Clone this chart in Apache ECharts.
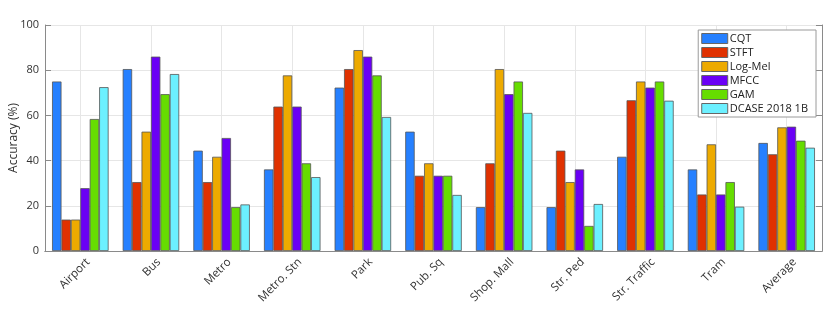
<!DOCTYPE html>
<html>
<head>
<meta charset="utf-8">
<script src="https://cdn.jsdelivr.net/npm/echarts@6/dist/echarts.min.js"></script>
<style>
  html, body { margin: 0; padding: 0; background: #fff; }
  #chart { width: 830px; height: 325px; }
</style>
</head>
<body>
<div id="chart"></div>
<script>
const categories = ["Airport", "Bus", "Metro", "Metro. Stn", "Park", "Pub. Sq", "Shop. Mall", "Str. Ped", "Str. Traffic", "Tram", "Average"];
const yTicks = [0, 20, 40, 60, 80, 100];

const cqt = [75.0, 80.5, 44.4, 36.1, 72.3, 52.8, 19.4, 19.4, 41.7, 36.1, 47.8];
const stft = [13.9, 30.5, 30.5, 63.9, 80.5, 33.3, 38.8, 44.4, 66.7, 25.0, 42.8];
const logMel = [13.9, 52.8, 41.7, 77.7, 88.9, 38.8, 80.5, 30.5, 75.0, 47.2, 54.7];
const mfcc = [27.8, 86.0, 50.0, 63.9, 86.0, 33.3, 69.4, 36.1, 72.3, 25.0, 55.0];
const gam = [58.4, 69.4, 19.4, 38.8, 77.7, 33.3, 75.0, 11.1, 75.0, 30.5, 48.8];
const dcase = [72.5, 78.3, 20.6, 32.7, 59.3, 24.8, 61.1, 20.8, 66.5, 19.6, 45.7];

const seriesNames = ["CQT", "STFT", "Log-Mel", "MFCC", "GAM", "DCASE 2018 1B"];
const seriesColors = ["#2680ff", "#e03100", "#edaa00", "#6a00f5", "#66dd00", "#6cf0ff"];
const seriesValues = [cqt, stft, logMel, mfcc, gam, dcase];

// half-category slots, only used to put grid lines on the category centres
const halfSlots = categories.flatMap(c => [c + " L", c + " R"]);

const font = "Open Sans";
const axisGray = "#8a8a8a";

const chart = echarts.init(document.getElementById("chart"), null, { renderer: "canvas" });

const option = {
  backgroundColor: "#fff",
  animation: false,
  textStyle: { fontFamily: font },
  grid: { left: 45, right: 8, top: 25, bottom: 74, containLabel: false, outerBoundsMode: "none" },
  legend: {
    data: seriesNames,
    orient: "vertical",
    right: 14,
    top: 30,
    icon: "rect",
    itemWidth: 26,
    itemHeight: 10,
    itemGap: 3,
    padding: [3, 8, 3, 3],
    backgroundColor: "#fff",
    borderColor: "#9a9a9a",
    borderWidth: 1,
    borderRadius: 0,
    textStyle: { fontFamily: font, fontSize: 11, color: "#222", padding: [0, 0, 0, -3] },
    itemStyle: { borderColor: "#666", borderWidth: 1 }
  },
  xAxis: [
    {
      type: "category",
      data: categories,
      position: "bottom",
      z: 4,
      axisLine: { lineStyle: { color: axisGray, width: 1 } },
      axisTick: { inside: true, alignWithLabel: true, length: 6, lineStyle: { color: axisGray } },
      axisLabel: {
        rotate: 45, margin: 17, fontFamily: font, fontSize: 11.5, color: "#333",
        padding: [0, -11, 0, 0]
      },
      splitLine: { show: false }
    },
    {
      type: "category",
      data: categories,
      position: "top",
      axisLine: { lineStyle: { color: axisGray, width: 1 } },
      axisTick: { inside: true, alignWithLabel: true, length: 6, lineStyle: { color: axisGray } },
      axisLabel: { show: false },
      splitLine: { show: false }
    },
    {
      type: "category",
      data: halfSlots,
      position: "bottom",
      axisLine: { show: false },
      axisTick: { show: false },
      axisLabel: { show: false },
      splitLine: {
        show: true,
        interval: (i) => i % 2 === 1,
        lineStyle: { color: "#e6e6e6", width: 1 }
      }
    }
  ],
  yAxis: [
    {
      type: "value",
      min: 0,
      max: 100,
      interval: 20,
      name: "Accuracy (%)",
      nameLocation: "middle",
      nameGap: 25,
      nameMoveOverlap: false,
      nameTextStyle: { fontFamily: font, fontSize: 12, color: "#333" },
      axisLine: { show: true, lineStyle: { color: axisGray, width: 1 } },
      axisTick: { show: true, inside: true, length: 6, lineStyle: { color: axisGray } },
      axisLabel: {
        fontFamily: font, fontSize: 11, color: "#333", margin: 6,
        formatter: v => (yTicks.indexOf(v) >= 0 ? String(v) : "")
      },
      splitLine: { show: true, lineStyle: { color: "#e6e6e6", width: 1 } }
    },
    {
      type: "value",
      min: 0,
      max: 100,
      interval: 20,
      position: "right",
      axisLine: { show: true, lineStyle: { color: axisGray, width: 1 } },
      axisTick: { show: true, inside: true, length: 6, lineStyle: { color: axisGray } },
      axisLabel: { show: false },
      splitLine: { show: false }
    }
  ],
  series: seriesNames.map((name, i) => ({
    name: name,
    type: "bar",
    xAxisIndex: 0,
    data: seriesValues[i],
    barGap: "0%",
    barCategoryGap: "20%",
    itemStyle: { color: seriesColors[i], borderColor: "#555", borderWidth: 0.8 }
  }))
};

chart.setOption(option);
</script>
</body>
</html>
